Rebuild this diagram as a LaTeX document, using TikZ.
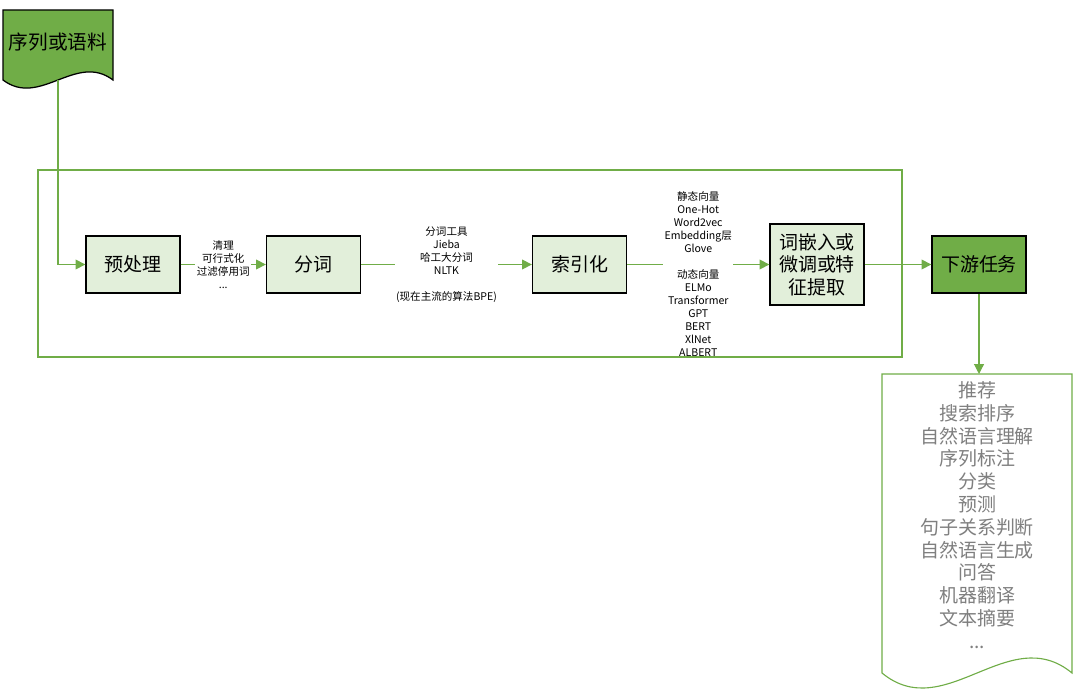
\documentclass[tikz,border=0pt]{standalone}
\usepackage{fontspec}
\setmainfont{Noto Sans CJK SC}
\usetikzlibrary{arrows.meta,positioning}
\definecolor{grn}{HTML}{70AD47}
\definecolor{ltgrn}{HTML}{E2EFDA}
\definecolor{txtgrey}{HTML}{7F7F7F}

\begin{document}
\begin{tikzpicture}[x=0.025cm,y=-0.025cm,
  box/.style={draw=black,line width=0.9pt,fill=ltgrn,minimum width=2.35cm,
              minimum height=1.425cm,inner sep=2pt,align=center,
              font=\fontsize{13.5}{16}\selectfont},
  conn/.style={grn,line width=0.8pt},
  arr/.style={conn,-{Triangle[length=7pt,width=7pt]}},
  lbl/.style={fill=white,text=black,inner sep=1pt,align=center,
              font=\fontsize{7.5}{9.2}\selectfont}]
\useasboundingbox (0,0) rectangle (1076,696);

% source document
\draw[line width=0.9pt,fill=grn] (3,10) -- (113,10) -- (113,80)
  .. controls (76,52) and (40,108) .. (3,80) -- cycle;
\node[font=\fontsize{14}{16}\selectfont] (src) at (58,42) {序列或语料};
\coordinate (src-bot) at (58,80);

% pipeline
\node[box] (pre) at (133,264.5) {预处理};
\node[box] (seg) at (313.5,264.5) {分词};
\node[box] (idx) at (579.5,264.5) {索引化};
\node[box,minimum height=2.025cm] (emb) at (817,264.5) {词嵌入或\\微调或特\\征提取};
\node[box,fill=grn] (down) at (979,264.5) {下游任务};

% downstream tasks document
\draw[grn,line width=0.8pt,fill=white] (882,374) -- (1072,374) -- (1072,673)
  .. controls (1009,621) and (945,725) .. (882,673) -- cycle;
\node[text=txtgrey,align=center,font=\fontsize{13.5}{16.2}\selectfont] (apps) at (977,515)
  {推荐\\搜索排序\\自然语言理解\\序列标注\\分类\\预测\\句子关系判断\\
   自然语言生成\\问答\\机器翻译\\文本摘要\\...};
\coordinate (apps-top) at (979,374);

\draw[arr] (src-bot) |- (pre);
\draw[arr] (pre) -- (seg)
  node[lbl,midway] {清理\\可行式化\\过滤停用词\\...};
\draw[arr] (seg) -- (idx)
  node[lbl,midway] {分词工具\\Jieba\\哈工大分词\\NLTK\\~\\(现在主流的算法BPE)};
\draw[arr] (idx) -- (emb)
  node[lbl,midway,yshift=-0.24cm] {静态向量\\One-Hot\\Word2vec\\Embedding层\\Glove\\~\\
    动态向量\\ELMo\\Transformer\\GPT\\BERT\\XlNet\\ALBERT};
\draw[arr] (emb) -- (down);
\draw[arr] (down) -- (apps-top);

% frame round the pipeline
\draw[conn] (38,170) rectangle (902,357);
\end{tikzpicture}
\end{document}
